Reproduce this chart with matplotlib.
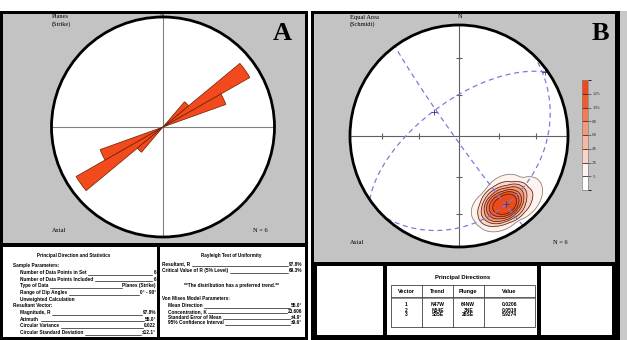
import numpy as np
import matplotlib
matplotlib.use("Agg")
import matplotlib.pyplot as plt
from matplotlib.patches import Rectangle, Wedge, Circle
from matplotlib.colors import ListedColormap, BoundaryNorm
from matplotlib.cm import ScalarMappable

# planes measured (strike / dip), dipping NW
strike = [45, 52, 54, 57, 61, 63]
dip = [70, 58, 66, 61, 68, 62]

# eigenvectors of the orientation tensor
vec_trend = [313, 54, 145]
vec_plunge = [64, 3, 26]
vec_trend_txt = ["N47W", "N54E", "S35E"]
vec_plunge_txt = ["64NW", "3NE", "26SE"]
vec_value = [0.0206, 0.0519, 5.9274]

# contour levels of the pole density
levels = [5, 25, 45, 65, 85, 105, 125]
peak_density = 165
level_colors = ["#FFFFFF", "#FDF3EF", "#F9D6CA", "#F6B8A2", "#F39A7C",
                "#F07B55", "#ED5D30", "#EB4A1A"]

stats_left = [
    ("Number of Data Points in Set", "6"),
    ("Number of Data Points Included", "6"),
    ("Type of Data", "Planes (Strike)"),
    ("Range of Dip Angles", "0\u00b0 - 90\u00b0"),
]
resultant = [
    ("Magnitude, R", "97.8%"),
    ("Azimuth", "55.0\u00b0"),
    ("Circular Variance", "0.022"),
    ("Circular Standard Deviation", "\u00b112.1\u00b0"),
]
rayleigh = [
    ("Resultant, R", "97.8%"),
    ("Critical Value of R (5% Level)", "69.3%"),
]
von_mises = [
    ("Mean Direction", "55.0\u00b0"),
    ("Concentration, K", "23.606"),
    ("Standard Error of Mean", "\u00b14.9\u00b0"),
    ("95% Confidence Interval", "\u00b19.6\u00b0"),
]

W, H = 627, 340
GRAY = "#C3C3C3"
SERIF = "Liberation Serif"
SANS = "Liberation Sans"

fig = plt.figure(figsize=(W / 100, H / 100), dpi=100)
bg = fig.add_axes([0, 0, 1, 1])
bg.set_xlim(0, W)
bg.set_ylim(H, 0)
bg.axis("off")


def px_axes(x0, y0, x1, y1):
    ax = fig.add_axes([x0 / W, 1 - y1 / H, (x1 - x0) / W, (y1 - y0) / H])
    return ax


def box(x0, y0, x1, y1, color):
    bg.add_patch(Rectangle((x0, y0), x1 - x0, y1 - y0, facecolor=color,
                           edgecolor="none"))


# frames
box(0, 11, 308, 340, "black")
box(3, 14, 305, 243, GRAY)
box(3, 247, 157, 337, "white")
box(160, 247, 305, 337, "white")
box(311, 11, 620, 340, "black")
box(314, 14, 615, 262, GRAY)
box(317, 266, 383, 335, "white")
box(387, 266, 537, 335, "white")
box(541, 266, 612, 335, "white")
box(620, 11, 627, 340, "#C8C8C8")


def net_axes(x0, y0, x1, y1):
    ax = px_axes(x0, y0, x1, y1)
    ax.set_xlim(-1, 1)
    ax.set_ylim(-1, 1)
    ax.axis("off")
    ax.add_patch(Circle((0, 0), 1, facecolor="white", edgecolor="none", zorder=0))
    return ax


def outline(ax):
    ax.add_patch(Circle((0, 0), 1, fill=False, edgecolor="black", lw=2.0,
                        clip_on=False, zorder=10))


# ---- A: rose diagram of strikes (axial, 10 degree bins)
axA = net_axes(51.5, 17, 274.5, 237)
axA.plot([-1, 1], [0, 0], color="#808080", lw=0.8, zorder=1)
axA.plot([0, 0], [-1, 1], color="#808080", lw=0.8, zorder=1)
counts, edges = np.histogram(np.array(strike) % 180, bins=np.arange(0, 181, 10))
for c, lo, hi in sorted(zip(counts, edges[:-1], edges[1:]), reverse=True):
    if c == 0:
        continue
    rr = 0.9 * c / counts.max()
    for off in (0, 180):
        axA.add_patch(Wedge((0, 0), rr, 90 - hi - off, 90 - lo - off,
                            facecolor="#F24A1C", edgecolor="#6A1E00",
                            lw=0.5, zorder=3))
outline(axA)
axA.text(162, 15.5, "N", transform=bg.transData, fontsize=4.6, family=SERIF,
         ha="center", va="center", clip_on=False, zorder=11)


# ---- B: equal area net of poles
def to_vec(trend, plunge):
    t, p = np.radians(trend), np.radians(plunge)
    return np.stack([np.cos(p) * np.sin(t), np.cos(p) * np.cos(t), np.sin(p)], axis=-1)


def project(v):
    v = np.where(v[..., 2:3] < 0, -v, v)
    s = 1 / np.sqrt(1 + v[..., 2])
    return v[..., 0] * s, v[..., 1] * s


axB = net_axes(350, 25, 568, 247)
axB.plot([-1, 1], [0, 0], color="#606060", lw=0.8, zorder=1)
axB.plot([0, 0], [-1, 1], color="#606060", lw=0.8, zorder=1)
for p in (30, 60):
    r = np.sqrt(1 - np.sin(np.radians(p)))
    axB.plot([-r, r], [0, 0], ls="none", marker="|", ms=5, mew=0.8,
             color="#606060", zorder=1)
    axB.plot([0, 0], [-r, r], ls="none", marker="_", ms=5, mew=0.8,
             color="#606060", zorder=1)

# parabolic-weighted counting of the poles on a projected grid
poles = to_vec(np.array(strike) + 90, 90 - np.array(dip))
gx, gy = np.meshgrid(np.linspace(-1, 1, 301), np.linspace(-1, 1, 301))
r2 = gx ** 2 + gy ** 2
f = np.sqrt(np.clip(2 - r2, 0, None))
g = np.stack([gx * f, gy * f, 1 - r2], axis=-1)
theta0 = np.radians(17)
ang = np.arccos(np.clip(np.abs(g @ poles.T), 0, 1))
dens = np.clip(1 - (ang / theta0) ** 2, 0, None).sum(axis=-1)
dens = dens / dens.max() * peak_density
dens[r2 > 1] = np.nan
fill_levels = levels + [1000]
axB.contourf(gx, gy, dens, levels=fill_levels, colors=level_colors[1:], zorder=2)
axB.contour(gx, gy, dens, levels=levels,
            colors=["#8A7870"] + ["#5A2010"] * (len(levels) - 1),
            linewidths=0.55, zorder=3)

# great circles normal to each eigenvector
evec = to_vec(np.array(vec_trend), np.array(vec_plunge))
for n in evec:
    u = np.cross(n, [0, 0, 1])
    u /= np.linalg.norm(u)
    v = np.cross(n, u)
    if v[2] < 0:
        v = -v
    a = np.linspace(0, np.pi, 200)
    pts = np.outer(np.cos(a), u) + np.outer(np.sin(a), v)
    px, py = project(pts)
    axB.plot(px, py, color="#7C7CD8", lw=0.9, dashes=(4, 3), zorder=4)
ex, ey = project(evec)
axB.plot(ex, ey, ls="none", marker="+", ms=4, mew=0.6, color="#34348A", zorder=5)
outline(axB)

# colour scale
cax = px_axes(582, 80, 588, 190)
cmap = ListedColormap(level_colors)
bounds = [-15] + levels + [145]
norm = BoundaryNorm(bounds, cmap.N)
cb = fig.colorbar(ScalarMappable(norm=norm, cmap=cmap), cax=cax,
                  boundaries=bounds, ticks=levels, drawedges=True)
cb.dividers.set_color("#5A2010")
cb.dividers.set_linewidth(0.6)
cb.outline.set_edgecolor("#808080")
cb.outline.set_linewidth(0.5)
cax.tick_params(length=2, width=0.5, color="#404040", labelsize=3, pad=1,
                labelcolor="#404040")


# ---- panel labels
def label(x, y, s, size=4.6, **kw):
    bg.text(x, y, s, fontsize=size, family=SERIF, va="center", **kw)


label(52, 17, "Planes")
label(52, 24.5, "(Strike)")
label(273, 34, "A", size=19, weight="bold")
label(52, 230, "Axial")
label(253, 230, "N = 6")

label(350, 17, "Equal Area")
label(350, 24.5, "(Schmidt)")
label(460, 17, "N", ha="center")
label(592, 34, "B", size=19, weight="bold")
label(350, 243, "Axial")
label(553, 243, "N = 6")

# ---- statistics tables
FS = 3.4
rows = []


def txt(x, y, s, ha="left", size=FS, weight="bold"):
    return bg.text(x, y, s, fontsize=size, family=SANS, weight=weight,
                   ha=ha, va="baseline")


def leader(x0, x1, y, name, value):
    rows.append((txt(x0, y, name), txt(x1, y, value, ha="right"), y))


txt(74, 256.5, "Principal Direction and Statistics", ha="center", size=3.3)
txt(13, 266.5, "Sample Parameters:")
ys = [274, 280.7, 287.3, 294]
for (name, value), y in zip(stats_left, ys):
    leader(20, 156, y, name, value)
txt(20, 300.7, "Unweighted Calculation")
txt(13, 307.4, "Resultant Vector:")
ys = [314, 320.7, 327.4, 334]
for (name, value), y in zip(resultant, ys):
    leader(20, 156, y, name, value)

txt(231, 256.5, "Rayleigh Test of Uniformity", ha="center", size=3.3)
for (name, value), y in zip(rayleigh, [265.5, 272]):
    leader(162, 302, y, name, value)
txt(231, 286.5, "**The distribution has a preferred trend.**", ha="center")
txt(162, 300.5, "Von Mises Model Parameters:")
for (name, value), y in zip(von_mises, [307, 312.8, 318.6, 324.4]):
    leader(168, 302, y, name, value)

# principal directions table
txt(463, 279, "Principal Directions", ha="center", size=4.2)
tx0, tx1, ty0, ty1, ty_head = 391, 535, 284.5, 327, 296.8
col_x = [422, 453, 483.5]
bg.add_patch(Rectangle((tx0, ty0), tx1 - tx0, ty1 - ty0, fill=False,
                       edgecolor="#404040", lw=0.6))
bg.plot([tx0, tx1], [ty_head, ty_head], color="#404040", lw=0.6)
bg.plot([tx0, tx1], [ty_head + 1.5, ty_head + 1.5], color="#404040", lw=0.4)
for cx in col_x:
    bg.plot([cx, cx], [ty0, ty1], color="#404040", lw=0.6)
centers = [406.5, 437.5, 468.3, 509.5]
for cx, head in zip(centers, ["Vector", "Trend", "Plunge", "Value"]):
    txt(cx, 293.3, head, ha="center", size=4.0)
for i in range(3):
    y = 306.5 + 5 * i
    cells = [str(i + 1), vec_trend_txt[i], vec_plunge_txt[i], f"{vec_value[i]:.4f}"]
    for cx, s in zip(centers, cells):
        txt(cx, y, s, ha="center", size=3.6)

# leader lines between labels and values
fig.canvas.draw()
ren = fig.canvas.get_renderer()
inv = bg.transData.inverted()
for t_name, t_val, y in rows:
    a = inv.transform(t_name.get_window_extent(ren))
    b = inv.transform(t_val.get_window_extent(ren))
    xa = max(a[:, 0]) + 1.5
    xb = min(b[:, 0]) - 1
    if xb > xa:
        bg.plot([xa, xb], [y + 0.6, y + 0.6], color="black", lw=0.45)

fig.savefig("out.png", dpi=100)
